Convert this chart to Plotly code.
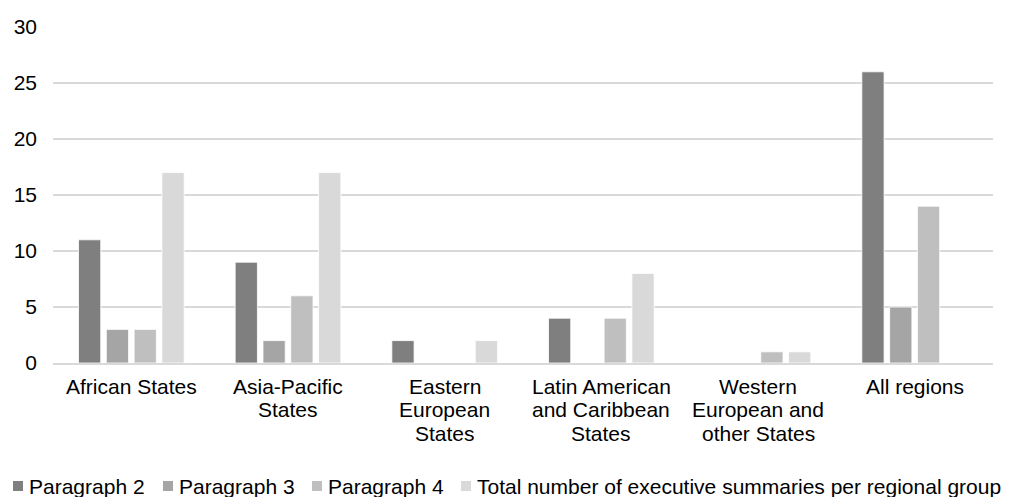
import plotly.graph_objects as go

categories = [
    "African States",
    "Asia-Pacific<br>States",
    "Eastern<br>European<br>States",
    "Latin American<br>and Caribbean<br>States",
    "Western<br>European and<br>other States",
    "All regions",
]
paragraph_2 = [11, 9, 2, 4, 0, 26]
paragraph_3 = [3, 2, 0, 0, 0, 5]
paragraph_4 = [3, 6, 0, 4, 1, 14]
total_summaries = [17, 17, 2, 8, 1, None]

series_names = [
    "Paragraph 2",
    "Paragraph 3",
    "Paragraph 4",
    "Total number of executive summaries per regional group",
]
series_values = [paragraph_2, paragraph_3, paragraph_4, total_summaries]
series_colors = ["#7f7f7f", "#a5a5a5", "#bfbfbf", "#d9d9d9"]

W, H = 1011, 497
M_L, M_R, M_T, M_B = 53, 18, 27, 134
PLOT_W = W - M_L - M_R
PLOT_H = H - M_T - M_B
FONT = "Liberation Sans, Arial, sans-serif"
TEXT_SIZE = 21


def paper_y(py):
    return (M_T + PLOT_H - py) / PLOT_H


def paper_x(px):
    return (px - M_L) / PLOT_W


fig = go.Figure()
for name, values, color in zip(series_names, series_values, series_colors):
    fig.add_trace(go.Bar(
        name=name, x=categories, y=values,
        marker=dict(color=color, line=dict(color="white", width=0.8)),
    ))

# Category labels, one annotation per line for tight line spacing
first_line_px = 386
line_step_px = 23.5
for cat in categories:
    for i, line in enumerate(cat.split("<br>")):
        fig.add_annotation(
            xref="x", yref="paper", x=cat, y=paper_y(first_line_px + i * line_step_px),
            xanchor="center", yanchor="middle", showarrow=False,
            text=line, font=dict(family=FONT, size=TEXT_SIZE, color="#000000"),
        )

# Legend row drawn beneath the axis: square swatch followed by its label
legend_left_px = [13, 163, 312, 461]
legend_mid_px = 486
swatch = 10
for left, name, color in zip(legend_left_px, series_names, series_colors):
    fig.add_shape(type="rect", xref="paper", yref="paper",
                  x0=paper_x(left), x1=paper_x(left + swatch),
                  y0=paper_y(legend_mid_px + swatch / 2),
                  y1=paper_y(legend_mid_px - swatch / 2),
                  fillcolor=color, line=dict(width=0))
    fig.add_annotation(
        xref="paper", yref="paper",
        x=paper_x(left + swatch + 4), y=paper_y(legend_mid_px),
        xanchor="left", yanchor="middle", showarrow=False,
        text=name, font=dict(family=FONT, size=TEXT_SIZE, color="#000000"),
    )

fig.update_layout(
    width=W, height=H,
    margin=dict(l=M_L, r=M_R, t=M_T, b=M_B),
    paper_bgcolor="white", plot_bgcolor="white",
    font=dict(family=FONT, size=TEXT_SIZE, color="#000000"),
    barmode="group", bargap=0.29, bargroupgap=0.2,
    showlegend=False,
    xaxis=dict(showgrid=False, showline=True, linecolor="#d9d9d9", linewidth=2,
               ticks="", showticklabels=False),
    yaxis=dict(range=[0, 30], dtick=5, showgrid=True, gridcolor="#d9d9d9", gridwidth=2,
               zeroline=False, showline=False, ticks="", tickfont=dict(size=TEXT_SIZE),
               ticklabelstandoff=15),
)

fig.write_html("out.html")
